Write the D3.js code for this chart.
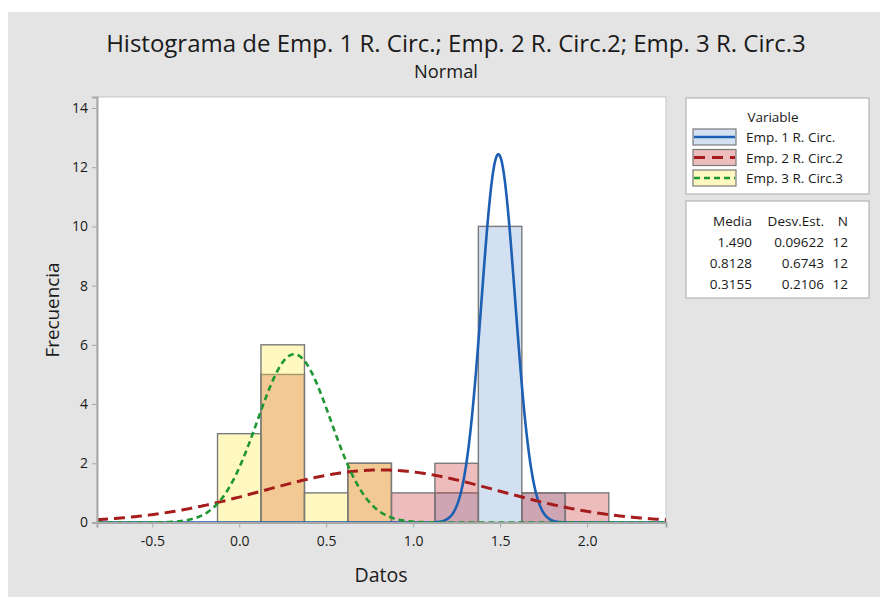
<!DOCTYPE html>
<html>
<head>
<meta charset="utf-8">
<script src="https://cdn.jsdelivr.net/npm/d3@7"></script>
<style>
  html, body { margin: 0; padding: 0; background: #fff; }
  svg { display: block; }
  text { font-family: "Open Sans", "Noto Sans", sans-serif; fill: #1a1a1a; }
</style>
</head>
<body>
<svg id="chart" width="880" height="597"></svg>
<script>
// ---- data ----
const binCenters = [0.0, 0.25, 0.5, 0.75, 1.0, 1.25, 1.5, 1.75, 2.0];
const binWidth = 0.25;
const seriesNames = ["Emp. 1 R. Circ.", "Emp. 2 R. Circ.2", "Emp. 3 R. Circ.3"];
const emp1Counts = [0, 0, 0, 0, 0, 1, 10, 1, 0];
const emp2Counts = [0, 5, 0, 2, 1, 2, 0, 1, 1];
const emp3Counts = [3, 6, 1, 2, 0, 0, 0, 0, 0];
const means = [1.490, 0.8128, 0.3155];
const stdDevs = [0.09622, 0.6743, 0.2106];
const counts = [12, 12, 12];
const meanLabels = ["1.490", "0.8128", "0.3155"];
const sdLabels = ["0.09622", "0.6743", "0.2106"];
const xTicks = [-0.5, 0.0, 0.5, 1.0, 1.5, 2.0];
const yTicks = [0, 2, 4, 6, 8, 10, 12, 14];

// ---- styles ----
const barFill = ["#6C98D0", "#C32026", "#FFE72D"];
const barOpacity = 0.3;
const lineColor = ["#1C5FB3", "#A51C1C", "#1E9632"];
const lineDash = [null, "11,6", "6,4"];
const lineWidth = [2.6, 3, 2.6];

const svg = d3.select("#chart");
svg.append("rect").attr("x", 8).attr("y", 12).attr("width", 872).attr("height", 585).attr("fill", "#E4E4E4");

const plot = { left: 97, right: 666, top: 97, bottom: 522.5 };
const x = d3.scaleLinear().domain([-0.818, 2.454]).range([plot.left, plot.right]);
const y = d3.scaleLinear().domain([0, 14.37]).range([plot.bottom, plot.top]);

svg.append("rect").attr("x", plot.left).attr("y", plot.top)
  .attr("width", plot.right - plot.left).attr("height", plot.bottom - plot.top)
  .attr("fill", "#fff").attr("stroke", "#C4C4C4").attr("stroke-width", 1);

svg.append("clipPath").attr("id", "clip").append("rect")
  .attr("x", plot.left).attr("y", plot.top)
  .attr("width", plot.right - plot.left).attr("height", plot.bottom - plot.top);

const g = svg.append("g").attr("clip-path", "url(#clip)");

// bars
const allCounts = [emp1Counts, emp2Counts, emp3Counts];
allCounts.forEach((cts, si) => {
  const data = binCenters.map((c, i) => ({ c, n: cts[i] })).filter(d => d.n > 0);
  g.append("g").selectAll("rect").data(data).join("rect")
    .attr("x", d => x(d.c - binWidth / 2))
    .attr("width", d => x(d.c + binWidth / 2) - x(d.c - binWidth / 2))
    .attr("y", d => y(d.n))
    .attr("height", d => y(0) - y(d.n))
    .attr("fill", barFill[si]).attr("fill-opacity", barOpacity)
    .attr("stroke", "#7A7A7A").attr("stroke-width", 1.4);
});

// fitted normal curves (from the stated mean, st.dev and N)
function normalCurve(mu, sd, n) {
  const pts = [];
  const [a, b] = x.domain();
  const steps = 600;
  for (let i = 0; i <= steps; i++) {
    const xv = a + (b - a) * i / steps;
    const z = (xv - mu) / sd;
    pts.push([xv, n * binWidth * Math.exp(-0.5 * z * z) / (sd * Math.sqrt(2 * Math.PI))]);
  }
  return pts;
}
const line = d3.line().x(d => x(d[0])).y(d => y(d[1]));
[0, 1, 2].forEach(si => {
  g.append("path").datum(normalCurve(means[si], stdDevs[si], counts[si]))
    .attr("d", line).attr("fill", "none")
    .attr("stroke", lineColor[si]).attr("stroke-width", lineWidth[si])
    .attr("stroke-dasharray", lineDash[si]);
});

// axes
const axisColor = "#A8A8A8";
const yAxis = svg.append("g").attr("transform", `translate(${plot.left},0)`)
  .call(d3.axisLeft(y).tickValues(yTicks).tickSize(5).tickPadding(4).tickFormat(d3.format("d")));
const xAxis = svg.append("g").attr("transform", `translate(0,${plot.bottom})`)
  .call(d3.axisBottom(x).tickValues(xTicks).tickSize(5).tickPadding(9).tickFormat(d3.format(".1f")));
[yAxis, xAxis].forEach(ax => {
  ax.select(".domain").attr("stroke", axisColor).attr("stroke-width", 2);
  ax.selectAll(".tick line").attr("stroke", axisColor);
  ax.selectAll(".tick text").style("font-size", "14px").style("fill", "#1a1a1a")
    .style("font-family", '"Open Sans", sans-serif');
});
xAxis.selectAll(".tick text").text(d => d < 0 ? "-" + Math.abs(d).toFixed(1) : d.toFixed(1));

// fit text to a target width (reference uses a narrower font)
function fitText(sel, target, base) {
  const w = sel.node().getComputedTextLength();
  sel.style("font-size", (base * target / w).toFixed(2) + "px");
}

// titles
const t1 = svg.append("text").attr("x", 456).attr("y", 52).attr("text-anchor", "middle")
  .style("font-size", "20px").text("Histograma de Emp. 1 R. Circ.; Emp. 2 R. Circ.2; Emp. 3 R. Circ.3");
fitText(t1, 700, 20);
const t2 = svg.append("text").attr("x", 446).attr("y", 78).attr("text-anchor", "middle")
  .style("font-size", "16px").text("Normal");
fitText(t2, 64, 16);
const t3 = svg.append("text").attr("x", 381).attr("y", 582).attr("text-anchor", "middle")
  .style("font-size", "16px").text("Datos");
fitText(t3, 53, 16);
const t4 = svg.append("text").attr("transform", "translate(59,310) rotate(-90)").attr("text-anchor", "middle")
  .style("font-size", "16px").text("Frecuencia");
fitText(t4, 95, 16);

// legend
const fs = "13.5px";
const leg = svg.append("g");
leg.append("rect").attr("x", 686).attr("y", 98).attr("width", 183).attr("height", 96)
  .attr("fill", "#fff").attr("stroke", "#A8A8A8");
leg.append("text").attr("x", 773).attr("y", 121.5).attr("text-anchor", "middle")
  .style("font-size", fs).text("Variable");
const entryY = [137, 157.5, 178];
seriesNames.forEach((name, i) => {
  const cy = entryY[i];
  leg.append("rect").attr("x", 693).attr("y", cy - 8).attr("width", 43).attr("height", 16)
    .attr("fill", barFill[i]).attr("fill-opacity", barOpacity).attr("stroke", "#7A7A7A").attr("stroke-width", 1.2);
  leg.append("line").attr("x1", 694).attr("x2", 735).attr("y1", cy).attr("y2", cy)
    .attr("stroke", lineColor[i]).attr("stroke-width", lineWidth[i])
    .attr("stroke-dasharray", i === 1 ? "11,7" : lineDash[i]);
  leg.append("text").attr("x", 746).attr("y", cy + 5).style("font-size", fs).text(name);
});

leg.append("rect").attr("x", 686).attr("y", 201).attr("width", 183).attr("height", 97)
  .attr("fill", "#fff").attr("stroke", "#A8A8A8");
const colRight = [752, 824, 848];
const headers = ["Media", "Desv.Est.", "N"];
headers.forEach((h, j) => {
  leg.append("text").attr("x", colRight[j]).attr("y", 226).attr("text-anchor", "end")
    .style("font-size", fs).text(h);
});
const rowY = [247, 268, 289];
[0, 1, 2].forEach(i => {
  [meanLabels[i], sdLabels[i], String(counts[i])].forEach((v, j) => {
    leg.append("text").attr("x", colRight[j]).attr("y", rowY[i]).attr("text-anchor", "end")
      .style("font-size", fs).text(v);
  });
});
</script>
</body>
</html>
